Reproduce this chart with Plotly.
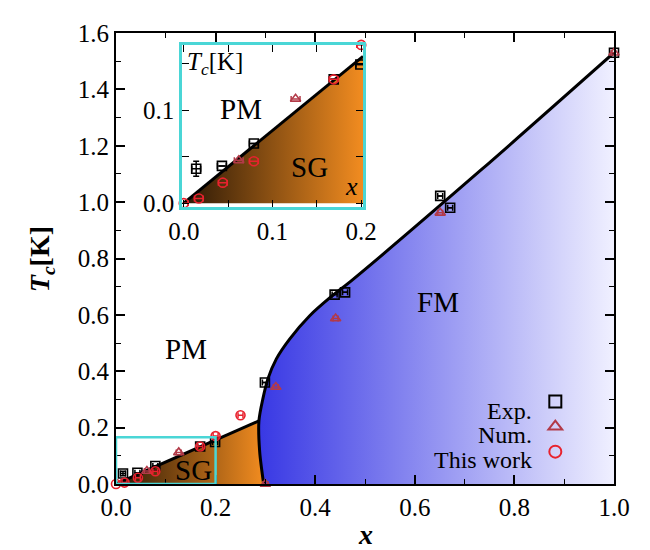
import numpy as np
import plotly.graph_objects as go

# ---------------- data ----------------
exp_x = [0.014, 0.043, 0.079, 0.169, 0.199, 0.299, 0.439, 0.460, 0.651, 0.671, 1.0]
exp_y = [0.037, 0.040, 0.064, 0.133, 0.149, 0.360, 0.672, 0.680, 1.022, 0.980, 1.530]
exp_ey = [0.008, 0, 0, 0, 0, 0, 0, 0, 0, 0, 0]

num_x = [0.062, 0.126, 0.300, 0.321, 0.441, 0.651, 1.0]
num_y = [0.046, 0.112, 0.000, 0.344, 0.587, 0.962, 1.530]

this_x = [0.0, 0.017, 0.044, 0.079, 0.169, 0.200, 0.250]
this_y = [0.0, 0.005, 0.022, 0.045, 0.133, 0.170, 0.244]

series_names = ["Exp.", "Num.", "This work"]

# PM / SG boundary (straight line)
sg_line_x = [0.0, 0.287]
sg_line_y = [0.0, 0.224]

# FM boundary
fm_bx = [0.2965, 0.2885, 0.287, 0.295, 0.305, 0.322, 0.349, 0.389, 0.429, 0.476, 0.733, 1.0]
fm_by = [0.0, 0.115, 0.224, 0.303, 0.373, 0.444, 0.515, 0.597, 0.660, 0.726, 1.114, 1.530]

FONT = "Liberation Serif"
EXP_C = "black"
NUM_C = "#b23a48"
THIS_C = "#e8222e"
CYAN = "#4ad6d6"
SG_SCALE = [[0, "#2a1806"], [1, "#f28c20"]]
FM_SCALE = [[0, "#3838e4"], [1, "#f0f0ff"]]

INSET_XR = [-0.002, 0.202]
INSET_YR = [-0.004, 0.170]

fig = go.Figure()

# ---------------- main panel fills ----------------
n_sg = 3
sg_poly_x = [sg_line_x[0]] + fm_bx[:n_sg][::-1]
sg_poly_y = [sg_line_y[0]] + fm_by[:n_sg][::-1]
fig.add_trace(go.Scatter(x=sg_poly_x, y=sg_poly_y, mode="none", fill="toself",
                         fillgradient=dict(type="horizontal", colorscale=SG_SCALE),
                         showlegend=False, hoverinfo="skip", xaxis="x", yaxis="y"))
fm_poly_x = fm_bx + [fm_bx[-1]]
fm_poly_y = fm_by + [0.0]
fig.add_trace(go.Scatter(x=fm_poly_x, y=fm_poly_y, mode="none", fill="toself",
                         fillgradient=dict(type="horizontal", colorscale=FM_SCALE),
                         showlegend=False, hoverinfo="skip", xaxis="x", yaxis="y"))

# ---------------- inset fill ----------------
xr = INSET_XR[1]
yr_line = float(np.interp(xr, sg_line_x, sg_line_y))
fig.add_trace(go.Scatter(x=[0.0, xr, xr], y=[0.0, yr_line, 0.0], mode="none", fill="toself",
                         fillgradient=dict(type="horizontal", colorscale=SG_SCALE),
                         showlegend=False, hoverinfo="skip", xaxis="x2", yaxis="y2"))

# ---------------- boundary lines ----------------
fig.add_trace(go.Scatter(x=sg_line_x, y=sg_line_y, mode="lines",
                         line=dict(color="black", width=3), showlegend=False,
                         hoverinfo="skip", xaxis="x", yaxis="y"))
fig.add_trace(go.Scatter(x=fm_bx, y=fm_by, mode="lines",
                         line=dict(color="black", width=3, shape="spline", smoothing=0.8),
                         showlegend=False, hoverinfo="skip", xaxis="x", yaxis="y"))
fig.add_trace(go.Scatter(x=[0.0, xr], y=[0.0, yr_line], mode="lines",
                         line=dict(color="black", width=3), showlegend=False,
                         hoverinfo="skip", xaxis="x2", yaxis="y2"))

# ---------------- markers ----------------
def markers(xs, ys, color, symbol, ax, ay, legend, ey=None):
    kw = {}
    if ey is not None:
        kw["error_y"] = dict(type="data", array=ey, color=color, thickness=1.5, width=3)
    return go.Scatter(
        x=xs, y=ys, mode="markers", name="", showlegend=legend,
        marker=dict(symbol=symbol, size=9, color=color,
                    line=dict(color=color, width=1.6)),
        error_x=dict(type="constant", value=0.005, color=color, thickness=1.5, width=3),
        cliponaxis=False, xaxis=ax, yaxis=ay, **kw)

for ax, ay, leg in [("x", "y", True), ("x2", "y2", False)]:
    fig.add_trace(markers(exp_x, exp_y, EXP_C, "square-open", ax, ay, leg, exp_ey))
    fig.add_trace(markers(num_x, num_y, NUM_C, "triangle-up-open", ax, ay, leg, None))
    fig.add_trace(markers(this_x, this_y, THIS_C, "circle-open", ax, ay, leg, None))

tickfont = dict(family=FONT, size=25, color="black")
main_ax = dict(showline=True, linecolor="black", linewidth=2, mirror="allticks",
               ticks="inside", ticklen=9, tickwidth=1.5, tickcolor="black",
               showgrid=False, zeroline=False, tickformat=".1f", tickfont=tickfont)
inset_ax = dict(showline=True, linecolor=CYAN, linewidth=2.5, mirror="allticks",
                ticks="inside", ticklen=7, tickwidth=1.3, tickcolor="black",
                showgrid=False, zeroline=False, tickformat=".1f", tickfont=tickfont)

fig.update_layout(
    width=650, height=550,
    margin=dict(l=108, r=44, t=22, b=74),
    paper_bgcolor="white", plot_bgcolor="white",
    font=dict(family=FONT, size=25, color="black"),
    xaxis=dict(range=[0, 1], domain=[0, 1], dtick=0.2, tick0=0,
               minor=dict(ticks="inside", ticklen=5, dtick=0.1, tickcolor="black", tickwidth=1.2),
               **main_ax),
    yaxis=dict(range=[0, 1.6], domain=[0, 1], dtick=0.2, tick0=0,
               minor=dict(ticks="inside", ticklen=5, dtick=0.1, tickcolor="black", tickwidth=1.2),
               **main_ax),
    xaxis2=dict(range=INSET_XR, domain=[0.1325, 0.4960], anchor="y2", dtick=0.1, tick0=0,
                minor=dict(ticks="inside", ticklen=7, dtick=0.05, tickcolor="black", tickwidth=1.2),
                **inset_ax),
    yaxis2=dict(range=INSET_YR, domain=[0.6145, 0.9736], anchor="x2", dtick=0.1, tick0=0,
                minor=dict(ticks="inside", ticklen=7, dtick=0.05, tickcolor="black", tickwidth=1.2),
                **inset_ax),
    legend=dict(x=0.842, xanchor="left", y=0.222, yanchor="top",
                bgcolor="rgba(0,0,0,0)", font=dict(family=FONT, size=17),
                itemsizing="constant", tracegroupgap=0, itemwidth=30),
    shapes=[dict(type="rect", xref="x", yref="y", x0=0, x1=0.2, y0=0, y1=0.166,
                 line=dict(color=CYAN, width=2.5), layer="above")],
)

ann = []
def lab(text, x, y, xref, yref, size=29, **kw):
    ann.append(dict(text=text, x=x, y=y, xref=xref, yref=yref, showarrow=False,
                    font=dict(family=FONT, size=size, color="black"), **kw))

lab("PM", 0.14, 0.48, "x", "y")
lab("FM", 0.647, 0.645, "x", "y")
lab("SG", 0.155, 0.05, "x", "y")
lab("PM", 0.065, 0.101, "x2", "y2")
lab("SG", 0.142, 0.039, "x2", "y2")
lab("<i>T</i><sub><i>c</i></sub>[K]", 0.001, 0.169, "x2", "y2", size=25,
    xanchor="left", yanchor="top")
lab("<i>x</i>", 0.199, 0.0, "x2", "y2", size=26, xanchor="right", yanchor="bottom")
lab("<b><i>x</i></b>", 0.5, -0.112, "paper", "paper", size=28,
    xanchor="center", yanchor="middle")
lab("<b><i>T</i><sub><i>c</i></sub>[K]</b>", -0.149, 0.498, "paper", "paper", size=28,
    textangle=-90, xanchor="center", yanchor="middle")
# legend texts, right-aligned to the left of the legend symbols
for name, yy in zip(series_names, [0.161, 0.108, 0.053]):
    lab(name, 0.84, yy, "paper", "paper", size=24, xanchor="right", yanchor="middle")
fig.update_layout(annotations=ann)

fig.write_html("out.html")
